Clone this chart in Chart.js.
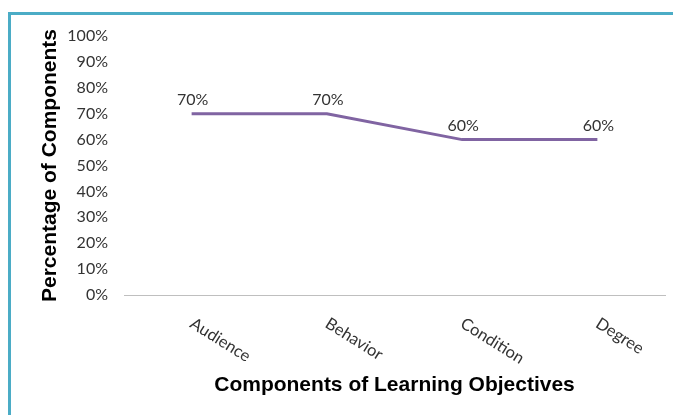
<!DOCTYPE html>
<html>
<head>
<meta charset="utf-8">
<script src="https://cdn.jsdelivr.net/npm/chart.js@4"></script>
<style>
  html, body { margin: 0; padding: 0; background: #fff; }
  #wrap { position: relative; width: 673px; height: 415px; overflow: hidden; }
  #frame {
    position: absolute; left: 8px; top: 12px; width: 800px; height: 500px;
    border-top: 3px solid #4BACC6; border-left: 3px solid #4BACC6;
    pointer-events: none;
  }
  canvas { position: absolute; left: 0; top: 0; }
</style>
</head>
<body>
<div id="wrap">
  <div id="frame"></div>
  <canvas id="chart" width="673" height="415"></canvas>
</div>
<script>
// ---- Data ----
const categories = ['Audience', 'Behavior', 'Condition', 'Degree'];
const percentages = [70, 70, 60, 60];
const yTicks = [0, 10, 20, 30, 40, 50, 60, 70, 80, 90, 100];

const TICK_FONT = "Lato, 'Open Sans', sans-serif";
const TEXT_COLOR = '#333333';

// ---- Plugin: point labels above line + slanted category labels ----
const labelsPlugin = {
  id: 'labels',
  afterDraw(chart) {
    const { ctx, scales } = chart;
    const meta = chart.getDatasetMeta(0);
    ctx.save();
    ctx.fillStyle = TEXT_COLOR;
    ctx.font = `16px ${TICK_FONT}`;
    ctx.textAlign = 'center';
    ctx.textBaseline = 'middle';
    meta.data.forEach((pt, i) => {
      ctx.fillText(percentages[i] + '%', pt.x + 1, pt.y - 14);
    });

    // category labels, rotated clockwise
    const xs = scales.x;
    const yBase = chart.chartArea.bottom + 27;
    ctx.font = `16.5px ${TICK_FONT}`;
    ctx.textAlign = 'left';
    categories.forEach((c, i) => {
      const x = xs.getPixelForTick(i);
      ctx.save();
      ctx.translate(x, yBase);
      ctx.rotate(32 * Math.PI / 180);
      ctx.fillText(c, 0, 0);
      ctx.restore();
    });
    ctx.restore();
  }
};

new Chart(document.getElementById('chart'), {
  type: 'line',
  data: {
    labels: categories,
    datasets: [{
      data: percentages,
      borderColor: '#8064A2',
      borderWidth: 3,
      pointRadius: 0,
      tension: 0,
      fill: false,
    }]
  },
  options: {
    responsive: false,
    animation: false,
    layout: { padding: { top: 36, right: 8, bottom: 0, left: 0 } },
    plugins: {
      legend: { display: false },
      tooltip: { enabled: false },
    },
    scales: {
      x: {
        offset: true,
        grid: { display: false, drawTicks: false },
        border: { display: true, color: '#BFBFBF', width: 1 },
        ticks: { display: false },
        title: {
          display: true,
          text: 'Components of Learning Objectives',
          color: '#000',
          font: { family: "'Liberation Sans', Arial, sans-serif", size: 21, weight: 'bold' },
          padding: { top: 0, bottom: 17 },
        },
        afterFit: s => { s.height = 120; },
      },
      y: {
        min: 0,
        max: 100,
        afterBuildTicks: s => { s.ticks = yTicks.map(v => ({ value: v })); },
        grid: { display: false, drawTicks: false },
        border: { display: false },
        ticks: {
          padding: 16,
          color: TEXT_COLOR,
          font: { family: TICK_FONT, size: 16 },
          callback: v => v + '%',
        },
        title: {
          display: true,
          text: 'Percentage of Components',
          color: '#000',
          font: { family: "'Liberation Sans', Arial, sans-serif", size: 21, weight: 'bold' },
          padding: { top: 38, bottom: 0 },
        },
        afterFit: s => { s.width = 124; },
      }
    }
  },
  plugins: [labelsPlugin]
});
</script>
</body>
</html>
